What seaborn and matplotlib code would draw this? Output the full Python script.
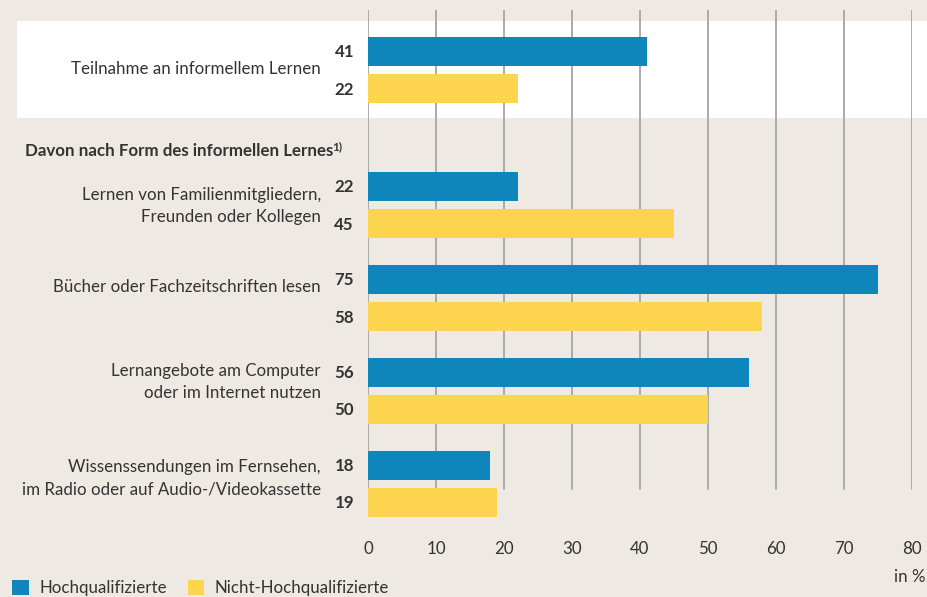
import pandas as pd
import matplotlib
matplotlib.use("Agg")
import matplotlib.pyplot as plt
import matplotlib.transforms as mtransforms
from matplotlib.patches import Rectangle, Patch
import seaborn as sns

# Daten
top_category = ["Teilnahme an informellem Lernen"]
form_categories = [
    "Lernen von Familienmitgliedern,\nFreunden oder Kollegen",
    "Bücher oder Fachzeitschriften lesen",
    "Lernangebote am Computer\noder im Internet nutzen",
    "Wissenssendungen im Fernsehen,\nim Radio oder auf Audio-/Videokassette",
]
groups = ["Hochqualifizierte", "Nicht-Hochqualifizierte"]
hoch = [41, 22, 75, 56, 18]
nicht_hoch = [22, 45, 58, 50, 19]
x_ticks = [0, 10, 20, 30, 40, 50, 60, 70, 80]

# kleine Verschiebung der Beschriftungen nach oben (Pixel), wie im Original
label_lift_top = [2]
label_lift_bot = [3, 12, 13, 10]

bg = "#eee9e2"
blue = "#0f86bb"
yellow = "#fdd44d"
text_col = "#333333"
grid_col = "#aaaaaa"

sns.set_style("white")
plt.rcParams["font.family"] = ["Lato", "DejaVu Sans"]
plt.rcParams["font.size"] = 12.2
plt.rcParams["text.color"] = text_col
plt.rcParams["xtick.color"] = text_col
plt.rcParams["ytick.color"] = text_col

all_cats = top_category + form_categories
df = pd.DataFrame({
    "kategorie": all_cats * 2,
    "gruppe": [groups[0]] * len(all_cats) + [groups[1]] * len(all_cats),
    "wert": hoch + nicht_hoch,
})
palette = {groups[0]: blue, groups[1]: yellow}

W, H = 927, 597
fig = plt.figure(figsize=(W / 100, H / 100), dpi=100)
fig.patch.set_facecolor(bg)

# weisses Band hinter der ersten Gruppe
fig.add_artist(Rectangle((17 / W, 1 - 118 / H), 1 - 17 / W, 97 / H,
                         transform=fig.transFigure, facecolor="white",
                         edgecolor="none", zorder=-1))

ax_top = fig.add_axes([368 / W, 1 - 130 / H, 544 / W, 120 / H])
ax_bot = fig.add_axes([368 / W, 1 - 535 / H, 544 / W, 405 / H])


def draw(ax, cats, grid_ymin, lifts):
    d = df[df["kategorie"].isin(cats)]
    sns.barplot(data=d, y="kategorie", x="wert", hue="gruppe", order=cats,
                hue_order=groups, palette=palette, orient="h", gap=0.22,
                saturation=1, legend=False, ax=ax, zorder=2, linewidth=0)
    ax.set_facecolor("none")
    ax.set_xlim(0, 80)
    for t in x_ticks:
        ax.axvline(t, ymin=grid_ymin, ymax=1, color=grid_col, lw=1.4, zorder=0.5)
    for s in ax.spines.values():
        s.set_visible(False)
    ax.set_xlabel("")
    ax.set_ylabel("")
    ax.tick_params(axis="y", length=0, pad=34)
    for lbl, lift in zip(ax.get_yticklabels(), lifts):
        lbl.set_linespacing(1.45)
        lbl.set_transform(lbl.get_transform() + mtransforms.Affine2D().translate(0, lift))
    for cont in ax.containers:
        for bar in cont:
            yc = bar.get_y() + bar.get_height() / 2
            ax.annotate(f"{bar.get_width():.0f}", xy=(0, yc), xytext=(-14, -1),
                        textcoords="offset pixels", ha="right", va="center",
                        fontweight="bold")


draw(ax_top, top_category, 0, label_lift_top)
ax_top.set_ylim(0.645, -0.645)
ax_top.set_xticks([])

draw(ax_bot, form_categories, 0.114, label_lift_bot)
ax_bot.set_ylim(3.55, -0.806)
ax_bot.set_xticks(x_ticks)
ax_bot.tick_params(axis="x", length=0, pad=4)

# Zwischenüberschrift
hdr = fig.text(25 / W, 1 - 151 / H, "Davon nach Form des informellen Lernes",
               fontweight="bold", va="center", ha="left")
ax_bot.annotate("1)", xy=(1, 1), xycoords=hdr, xytext=(-1, 1),
                textcoords="offset points", fontsize=8.5, fontweight="bold",
                va="top", ha="left", annotation_clip=False)

fig.text(925 / W, 1 - 577 / H, "in %", ha="right", va="center")

handles = [Patch(facecolor=blue, edgecolor="none"),
           Patch(facecolor=yellow, edgecolor="none")]
fig.legend(handles, groups, loc="lower left", bbox_to_anchor=(-0.003, -0.024),
           ncol=2, frameon=False, handlelength=0.95, handleheight=0.95,
           handletextpad=0.65, columnspacing=1.2)

fig.savefig("out.png", dpi=100, facecolor=bg)
